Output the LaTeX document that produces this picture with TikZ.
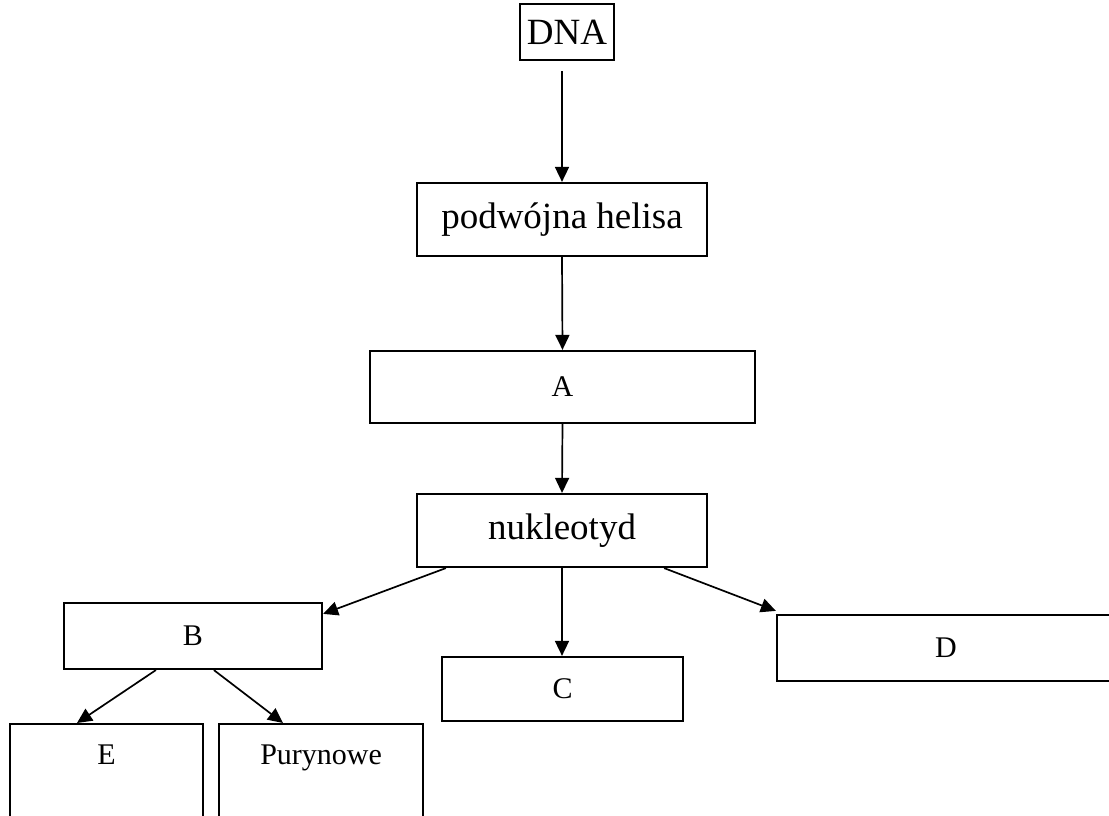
\documentclass[tikz,border=0pt]{standalone}
\usepackage{fontspec}
\setmainfont{Liberation Serif}
\usetikzlibrary{arrows.meta,calc}
\begin{document}
\begin{tikzpicture}[x=1pt,y=1pt,
  box/.style={draw=black, line width=2.2pt, rectangle, inner sep=0pt, font=\fontsize{30}{36}\selectfont},
  big/.style={font=\fontsize{37}{44}\selectfont},
  conn/.style={line width=1.7pt, -{Triangle[length=15pt,width=14pt]}},
  lbl/.style={inner sep=0pt, anchor=base, font=\fontsize{30}{36}\selectfont}]
\useasboundingbox (0,0) rectangle (1109,816);
\node[box, font=\fontsize{37}{44}\selectfont, minimum width=94pt, minimum height=56pt] (dna) at (567,784) {DNA};
\node[box, big, minimum width=290pt, minimum height=73pt] (hel) at (562,596.5) {podwójna helisa};
\node[box, minimum width=385pt, minimum height=72pt] (a) at (562.5,429) {A};
\node[box, big, minimum width=290pt, minimum height=73pt] (nuk) at (562,285.5) {nukleotyd};
\node[box, minimum width=258pt, minimum height=66pt] (b) at (193,180) {B};
\node[box, minimum width=241pt, minimum height=64pt] (c) at (562.5,127) {C};
\node[box, minimum width=338pt, minimum height=66pt] (d) at (946,168) {D};
\node[box, minimum width=193pt, minimum height=120pt, anchor=north west] (e) at (9,93) {};
\node[lbl] (etext) at ($(e.north)+(0,-42)$) {E};
\node[box, minimum width=204pt, minimum height=120pt, anchor=north west] (p) at (218,93) {};
\node[lbl] (ptext) at ($(p.north)+(0,-42)$) {Purynowe};
\draw[conn] ($(dna.south -| hel.north)+(0,-10)$) -- (hel.north);
\draw[conn] (hel.south) -- (a.north);
\draw[conn] (a.south) -- (nuk.north);
\draw[conn] ($(nuk.south west)+(30,0)$) -- ($(b.north east)+(0,-12)$);
\draw[conn] (nuk.south) -- (nuk.south |- c.north);
\draw[conn] ($(nuk.south east)+(-44,0)$) -- ($(d.north west)+(0,3)$);
\draw[conn] ($(b.south west)+(93,0)$) -- ($(e.north west)+(68,0)$);
\draw[conn] ($(b.south west)+(151,0)$) -- ($(p.north west)+(65,0)$);
\end{tikzpicture}
\end{document}
